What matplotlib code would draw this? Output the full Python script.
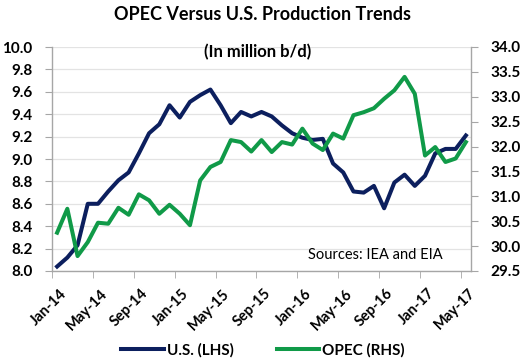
import numpy as np
import matplotlib.pyplot as plt
import matplotlib.transforms as mtransforms
from matplotlib.lines import Line2D

# monthly, Jan-14 .. May-17
us = [8.04, 8.12, 8.23, 8.60, 8.60, 8.71, 8.81, 8.88, 9.05, 9.23,
      9.31, 9.48, 9.37, 9.51, 9.57, 9.62, 9.48, 9.32, 9.42, 9.38,
      9.42, 9.38, 9.30, 9.23, 9.19, 9.17, 9.18, 8.96, 8.88, 8.71,
      8.70, 8.76, 8.56, 8.79, 8.86, 8.76, 8.85, 9.05, 9.09, 9.09,
      9.21]
opec = [30.27, 30.75, 29.80, 30.08, 30.47, 30.45, 30.77, 30.63, 31.04, 30.92,
        30.65, 30.83, 30.65, 30.42, 31.32, 31.59, 31.69, 32.13, 32.09, 31.90,
        32.13, 31.89, 32.09, 32.04, 32.36, 32.06, 31.93, 32.26, 32.16, 32.63,
        32.69, 32.77, 32.96, 33.13, 33.40, 33.06, 31.82, 31.99, 31.69, 31.76,
        32.09]
tick_labels = ["Jan-14", "May-14", "Sep-14", "Jan-15", "May-15", "Sep-15",
               "Jan-16", "May-16", "Sep-16", "Jan-17", "May-17"]

NAVY = "#0c1f5e"
GREEN = "#109a48"
AXC = "#a6a6a6"

plt.rcParams['font.family'] = ['Lato', 'DejaVu Sans']

fig = plt.figure(figsize=(5.22, 3.63), dpi=100)
ax = fig.add_axes([52/522, 1 - 271/363, 419/522, 224/363])
ax2 = ax.twinx()

x = np.arange(len(us))
ax.plot(x, us, color=NAVY, lw=2.9)
ax2.plot(x, opec, color=GREEN, lw=2.9)

ax.set_xlim(-0.5, len(us) - 0.5)
ax.set_ylim(8.0, 10.0)
ax2.set_ylim(29.5, 34.0)
ax.set_yticks(np.arange(8.0, 10.01, 0.2))
ax2.set_yticks(np.arange(29.5, 34.01, 0.5))
ax.yaxis.set_major_formatter(plt.FormatStrFormatter('%.1f'))
ax2.yaxis.set_major_formatter(plt.FormatStrFormatter('%.1f'))

ax.set_xticks(np.arange(0, len(us), 4))
ax.set_xticklabels(tick_labels, rotation=45, ha='right', rotation_mode='anchor')
ax.set_xticks(np.arange(-0.5, len(us) - 1, 4), minor=True)
ax.tick_params(axis='x', which='major', length=0, pad=11)
ax.tick_params(axis='x', which='minor', length=5, color=AXC)
shift = mtransforms.ScaledTranslation(2/100, 0, fig.dpi_scale_trans)
for lab in ax.get_xticklabels():
    lab.set_transform(lab.get_transform() + shift)

ax.yaxis.grid(True, color='#e3e3e3', lw=0.9)
ax.set_axisbelow(True)

for a in (ax, ax2):
    a.spines['top'].set_visible(False)
    for s in a.spines.values():
        s.set_color(AXC)
        s.set_linewidth(1.0)
    a.tick_params(axis='y', length=5, color=AXC, pad=9, labelsize=11)
    a.tick_params(axis='x', labelsize=10.5)
    for lab in a.get_xticklabels() + a.get_yticklabels():
        lab.set_fontweight('bold')
ax2.spines['left'].set_visible(False)
ax2.spines['bottom'].set_visible(False)
ax.spines['right'].set_visible(False)

ax.text(0.933, 0.071, "Sources: IEA and EIA", transform=ax.transAxes,
        ha='right', va='center', fontsize=10.5)

fig.text(0.502, 1 - 15/363, "OPEC Versus U.S. Production Trends",
         ha='center', va='center', fontsize=13, fontweight='bold')
fig.text(258/522, 1 - 52/363, "(In million b/d)",
         ha='center', va='center', fontsize=12, fontweight='bold')

handles = [Line2D([], [], color=NAVY, lw=2.9),
           Line2D([], [], color=GREEN, lw=2.9)]
fig.legend(handles, ["U.S. (LHS)", "OPEC (RHS)"], loc='center',
           bbox_to_anchor=(263/522, 1 - 350/363), ncol=2, frameon=False,
           handlelength=2.8, handletextpad=0.2, columnspacing=2.8,
           prop={'weight': 'bold', 'size': 11})

fig.savefig("out.png", dpi=100)
